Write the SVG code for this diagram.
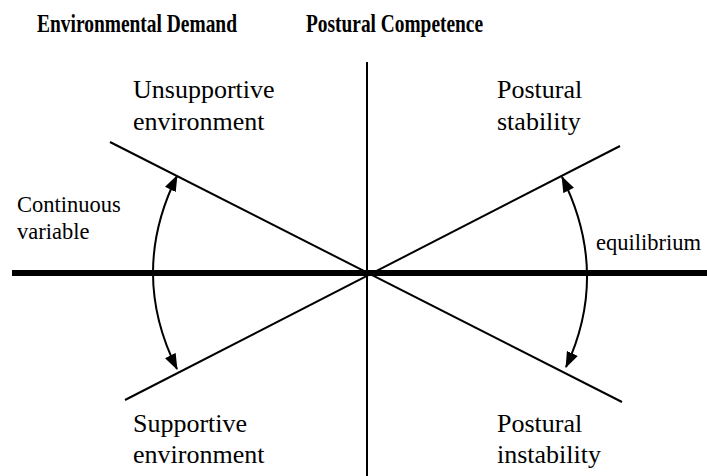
<svg xmlns="http://www.w3.org/2000/svg" width="707" height="476" viewBox="0 0 707 476">
<style>
text{font-family:"Liberation Serif","Tinos","Times New Roman","DejaVu Serif",serif;fill:#000}
.h{font-size:26px;font-weight:bold}
.l{font-size:26px}
.s{font-size:22.5px}
.ln{stroke:#000;stroke-width:2;fill:none}
</style>
<defs>
<marker id="a" markerWidth="16" markerHeight="12" refX="15" refY="6" orient="auto-start-reverse" markerUnits="userSpaceOnUse">
<path d="M0,0 L16,6 L0,12 z" fill="#000"/>
</marker>
</defs>
<rect width="707" height="476" fill="#fff"/>
<g id="connectors">
<line class="ln" x1="367" y1="62" x2="367" y2="476"/>
<line x1="12" y1="273" x2="707" y2="273" stroke="#000" stroke-width="6"/>
<line class="ln" x1="110" y1="142" x2="622" y2="402"/>
<line class="ln" x1="125" y1="400" x2="620" y2="146"/>
<path class="ln" stroke-width="2.5" d="M177,176 Q129,273 177,369" marker-start="url(#a)" marker-end="url(#a)"/>
<path class="ln" stroke-width="2.5" d="M562,177 Q610,273 566,367" marker-start="url(#a)" marker-end="url(#a)"/>
</g>
<g id="header-env"><text class="h" x="37" y="32" textLength="200" lengthAdjust="spacingAndGlyphs">Environmental Demand</text></g>
<g id="header-post"><text class="h" x="306" y="32" textLength="177" lengthAdjust="spacingAndGlyphs">Postural Competence</text></g>
<g id="unsupportive"><text class="l" x="133" y="98">Unsupportive</text><text class="l" x="133" y="130">environment</text></g>
<g id="stability"><text class="l" x="497" y="98">Postural</text><text class="l" x="497" y="130">stability</text></g>
<g id="continuous"><text class="s" x="17" y="212">Continuous</text><text class="s" x="17" y="239">variable</text></g>
<g id="equilibrium"><text class="s" x="596" y="250">equilibrium</text></g>
<g id="supportive"><text class="l" x="133" y="432">Supportive</text><text class="l" x="133" y="463">environment</text></g>
<g id="instability"><text class="l" x="497" y="432">Postural</text><text class="l" x="497" y="463">instability</text></g>
</svg>
